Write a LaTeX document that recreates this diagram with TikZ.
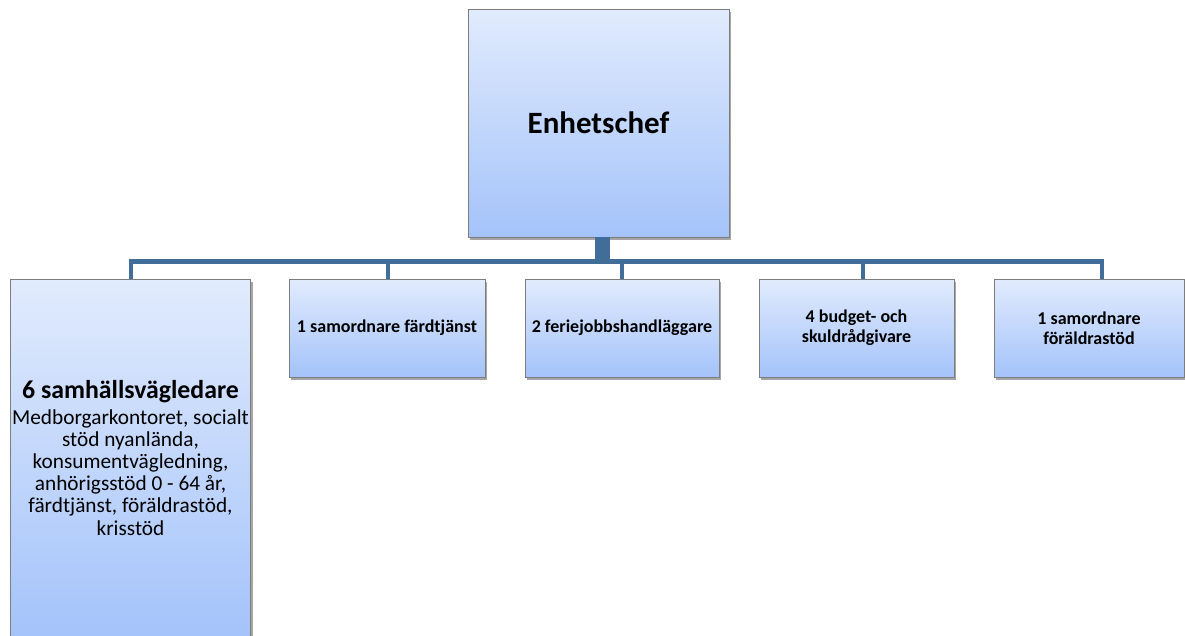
\documentclass[tikz,border=0pt]{standalone}
\usepackage{fontspec}
\setmainfont{Carlito}
\usetikzlibrary{shadows}
\definecolor{linkc}{RGB}{65,110,152}
\definecolor{boxtop}{RGB}{225,235,253}
\definecolor{boxbot}{RGB}{164,195,250}
\definecolor{boxline}{RGB}{125,125,125}
\tikzset{
  unit/.style={draw=boxline, line width=0.8pt, top color=boxtop, bottom color=boxbot,
    align=center, inner sep=2pt,
    drop shadow={shadow xshift=2pt, shadow yshift=-2.5pt, opacity=0.35, fill=black}},
  small/.style={unit, minimum height=98pt, font=\bfseries\fontsize{18}{20}\selectfont},
  link/.style={draw=linkc, line width=4.8pt}
}
\begin{document}
\begin{tikzpicture}[x=1pt,y=-1pt]
\useasboundingbox (0,0) rectangle (1185,635);
\clip (0,0) rectangle (1185,635);
\node[unit, minimum width=261pt, minimum height=228pt,
  font=\bfseries\fontsize{31}{36}\selectfont] (top) at (598.5,123) {Enhetschef};
\node[unit, minimum width=237pt, minimum height=358pt,
  font=\fontsize{21.3}{22.2}\selectfont] (b1) at (130.5,458)
  {{\bfseries\fontsize{25.8}{28}\selectfont 6 samhällsvägledare}\\[3pt]
   Medborgarkontoret, socialt\\ stöd nyanlända,\\ konsumentvägledning,\\
   anhörigsstöd 0 - 64 år,\\ färdtjänst, föräldrastöd,\\ krisstöd};
\node[small, minimum width=196pt] (b2) at (387,328) {1 samordnare färdtjänst};
\node[small, minimum width=194pt] (b3) at (622,328) {2 feriejobbshandläggare};
\node[small, minimum width=195pt] (b4) at (856.5,328) {4 budget- och\\ skuldrådgivare};
\node[small, minimum width=190pt] (b5) at (1089,328) {1 samordnare\\ föräldrastöd};
\draw[link] ([xshift=-1.5pt]top.south) -- ++(0,24) -| ([xshift=0.5pt]b1.north);
\draw[link] ([xshift=1pt]top.south) -- ++(0,24) -| ([xshift=1pt]b2.north);
\draw[link] ([xshift=3.5pt]top.south) -- ++(0,24) -| (b3.north);
\draw[link] ([xshift=6pt]top.south) -- ++(0,24) -| ([xshift=6.5pt]b4.north);
\draw[link] ([xshift=9pt]top.south) -- ++(0,24) -| ([xshift=13pt]b5.north);
\end{tikzpicture}
\end{document}
